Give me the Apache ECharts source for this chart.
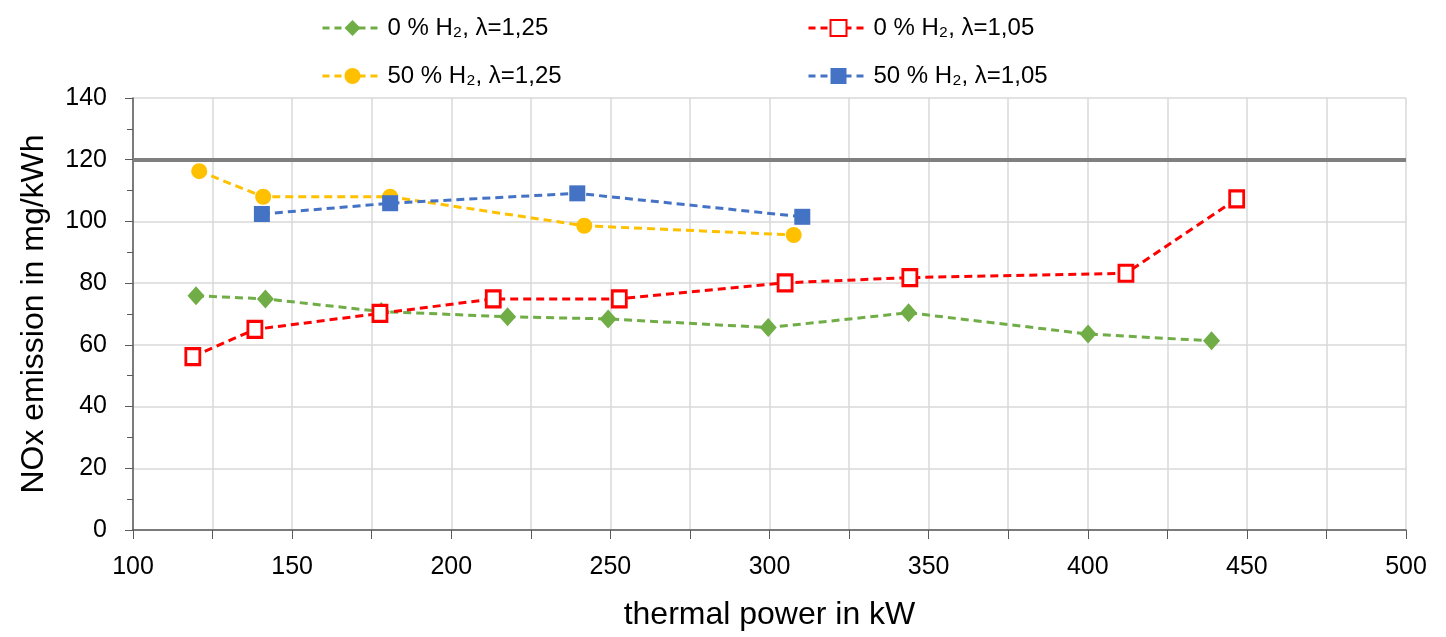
<!DOCTYPE html>
<html>
<head>
<meta charset="utf-8">
<script src="https://cdn.jsdelivr.net/npm/echarts@6/dist/echarts.min.js"></script>
<style>
  html, body { margin: 0; padding: 0; background: #fff; }
  #main { width: 1446px; height: 637px; }
</style>
</head>
<body>
<div id="main"></div>
<script>
// series names (legend text)
var names = ['0 % H\u2082, \u03bb=1,25', '0 % H\u2082, \u03bb=1,05', '50 % H\u2082, \u03bb=1,25', '50 % H\u2082, \u03bb=1,05'];

// thermal power (kW) and NOx (mg/kWh)
var green = [[119.8, 75.9], [141.6, 74.9], [178, 70.8], [217.7, 69.1], [249.3, 68.4], [299.6, 65.6], [343.7, 70.4], [400.1, 63.5], [438.9, 61.3]];
var red = [[118.8, 56.2], [138.3, 65.0], [177.6, 70.2], [213.2, 74.9], [252.8, 74.9], [304.9, 80.1], [344.1, 81.8], [412.0, 83.2], [446.8, 107.3]];
var yellow = [[120.8, 116.3], [140.9, 108.0], [180.8, 108.0], [241.8, 98.6], [307.6, 95.6]];
var blue = [[140.5, 102.4], [180.8, 105.9], [239.6, 109.1], [310.3, 101.5]];

var limit = 120;

var font = '"Liberation Sans", Arial, sans-serif';

var myChart = echarts.init(document.getElementById('main'));

function legendAt(name, left, top) {
    return {
        data: [name], left: left, top: top,
        itemWidth: 60, itemHeight: 20, itemGap: 0,
        lineStyle: { width: 3, type: [7, 5] },
        textStyle: { fontFamily: font, fontSize: 24, color: '#000' }
    };
}

function lineSeries(name, data, color, symbol, size, hollow) {
    return {
        name: name, type: 'line', data: data,
        symbol: symbol, symbolSize: size,
        lineStyle: { color: color, width: 3, type: [8, 5] },
        itemStyle: hollow ? { color: '#fff', borderColor: color, borderWidth: 3 } : { color: color },
        emphasis: { disabled: true },
        z: 3
    };
}

var option = {
    animation: false,
    legend: [
        legendAt(names[0], 316, 11),
        legendAt(names[1], 802, 11),
        legendAt(names[2], 316, 59),
        legendAt(names[3], 802, 59)
    ],
    grid: { left: 133, right: 40, top: 98, bottom: 107 },
    xAxis: {
        type: 'value', min: 100, max: 500, interval: 50,
        name: 'thermal power in kW', nameLocation: 'middle', nameGap: 69,
        nameTextStyle: { fontFamily: font, fontSize: 32, color: '#000' },
        axisLine: { show: true, lineStyle: { color: '#595959', width: 1.5 } },
        axisTick: { show: true, length: 9, lineStyle: { color: '#595959' } },
        minorTick: { show: true, splitNumber: 2, length: 9, lineStyle: { color: '#595959' } },
        axisLabel: { fontFamily: font, fontSize: 25, color: '#000', margin: 25 },
        splitLine: { show: true, lineStyle: { color: '#d9d9d9', width: 1.5 } },
        minorSplitLine: { show: true, lineStyle: { color: '#d9d9d9', width: 1.5 } }
    },
    yAxis: {
        type: 'value', min: 0, max: 140, interval: 20,
        name: 'NOx emission in mg/kWh', nameLocation: 'middle', nameGap: 83,
        nameTextStyle: { fontFamily: font, fontSize: 32, color: '#000' },
        axisLine: { show: true, lineStyle: { color: '#595959', width: 1.5 } },
        axisTick: { show: true, length: 8, lineStyle: { color: '#595959' } },
        minorTick: { show: true, splitNumber: 2, length: 6, lineStyle: { color: '#595959' } },
        axisLabel: { fontFamily: font, fontSize: 25, color: '#000', margin: 26 },
        splitLine: { show: true, lineStyle: { color: '#d9d9d9', width: 1.5 } }
    },
    series: [
        Object.assign(lineSeries(names[0], green, '#70ad47', 'diamond', [17, 19], false), {
            markLine: {
                silent: true, symbol: 'none', label: { show: false },
                lineStyle: { color: '#7f7f7f', width: 4, type: 'solid' },
                data: [{ yAxis: limit }]
            }
        }),
        lineSeries(names[1], red, '#ff0000', 'rect', [14, 16], true),
        lineSeries(names[2], yellow, '#ffc000', 'circle', 16, false),
        lineSeries(names[3], blue, '#4472c4', 'rect', 16, false)
    ]
};

myChart.setOption(option);
</script>
</body>
</html>
